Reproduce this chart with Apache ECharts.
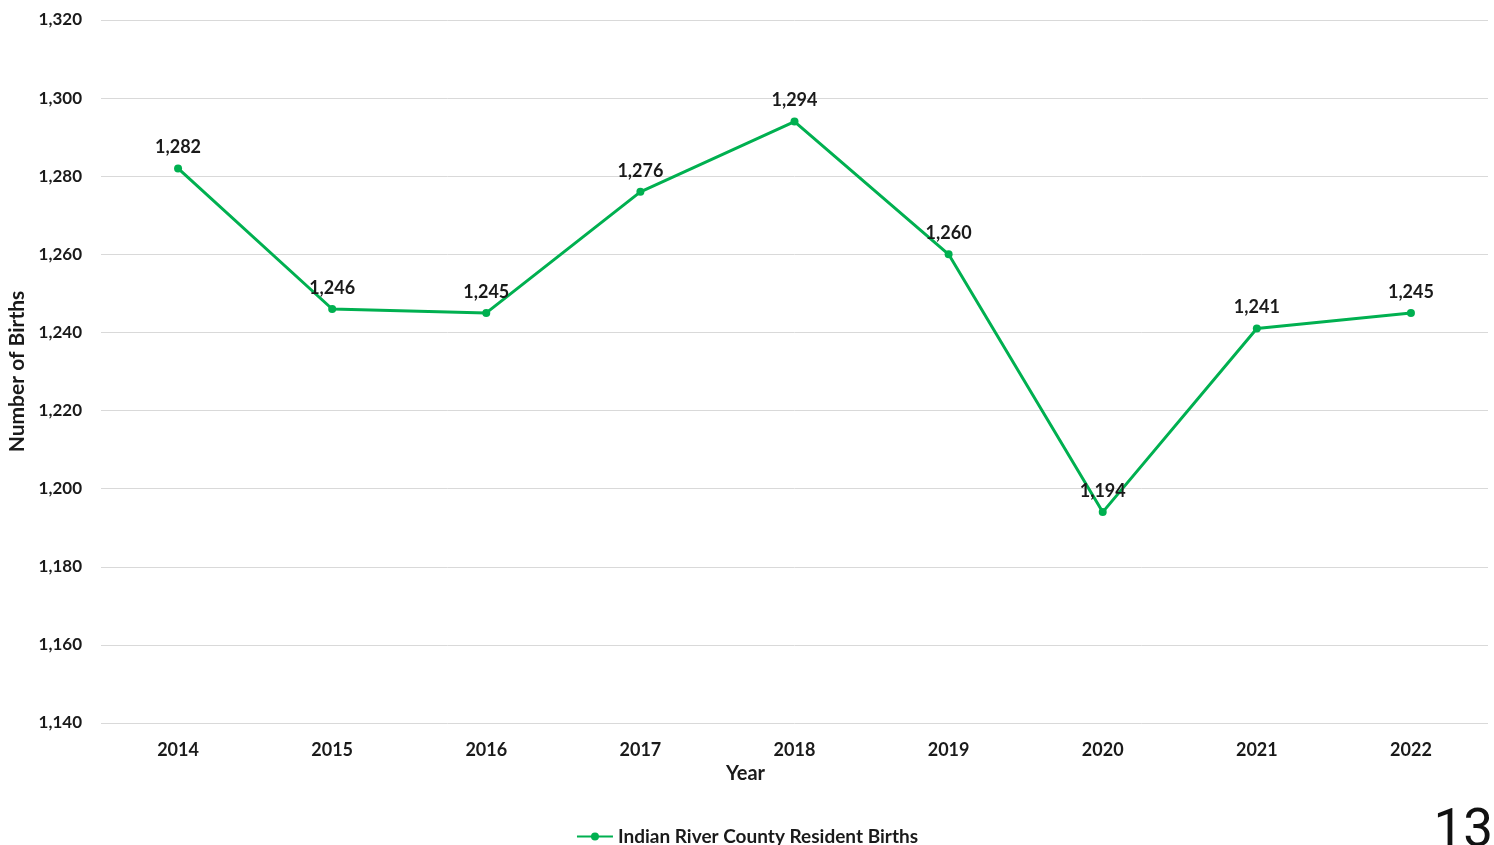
<!DOCTYPE html>
<html>
<head>
<meta charset="utf-8">
<script src="https://cdn.jsdelivr.net/npm/echarts@6/dist/echarts.min.js"></script>
<style>
  html, body { margin: 0; padding: 0; background: #fff; }
  #chart { width: 1494px; height: 845px; }
</style>
</head>
<body>
<div id="chart"></div>
<script>
const years = ['2014', '2015', '2016', '2017', '2018', '2019', '2020', '2021', '2022']
const births = [1282, 1246, 1245, 1276, 1294, 1260, 1194, 1241, 1245]
const seriesName = 'Indian River County Resident Births'
const pageNumber = '13'

const chart = echarts.init(document.getElementById('chart'))
const fmt = v => v.toLocaleString('en-US')
const font = 'Lato, "Open Sans", sans-serif'

chart.setOption({
  animation: false,
  textStyle: { fontFamily: font },
  grid: { left: 101, right: 6, top: 20, bottom: 122, containLabel: false, outerBoundsMode: 'none' },
  legend: {
    top: 822,
    left: 'center',
    itemWidth: 36,
    itemHeight: 10,
    itemGap: 2,
    textStyle: { fontSize: 19, fontWeight: 'bold', color: '#1a1a1a', fontFamily: font },
    data: [seriesName]
  },
  xAxis: {
    type: 'category',
    data: years,
    boundaryGap: true,
    name: 'Year',
    nameLocation: 'middle',
    nameGap: 40,
    // title sits left of the plot centre, under the page centre
    nameTextStyle: { fontSize: 20, fontWeight: 'bold', color: '#1a1a1a', padding: [0, 98, 0, 0] },
    axisLine: { show: false },
    axisTick: { show: false },
    axisLabel: { fontSize: 18, fontWeight: 'bold', color: '#1a1a1a', margin: 18 }
  },
  yAxis: {
    type: 'value',
    min: 1140,
    max: 1320,
    interval: 20,
    name: 'Number of Births',
    nameLocation: 'middle',
    nameGap: 73,
    nameTextStyle: { fontSize: 21, fontWeight: 'bold', color: '#1a1a1a' },
    axisLine: { show: false },
    axisTick: { show: false },
    axisLabel: { fontSize: 17, fontWeight: 'bold', color: '#1a1a1a', margin: 19, formatter: fmt },
    splitLine: { lineStyle: { color: '#d9d9d9', width: 1 } }
  },
  series: [{
    name: seriesName,
    type: 'line',
    data: births,
    color: '#00B050',
    lineStyle: { width: 3, color: '#00B050' },
    symbol: 'circle',
    symbolSize: 8,
    itemStyle: { color: '#00B050' },
    label: {
      show: true,
      position: 'top',
      distance: 8,
      fontSize: 18,
      fontWeight: 'bold',
      color: '#1a1a1a',
      formatter: p => fmt(p.value)
    }
  }],
  graphic: [{
    type: 'text',
    right: 1,
    top: 806,
    style: { text: pageNumber, fontSize: 53, fontFamily: 'Roboto, sans-serif', fill: '#111' }
  }]
})
</script>
</body>
</html>
